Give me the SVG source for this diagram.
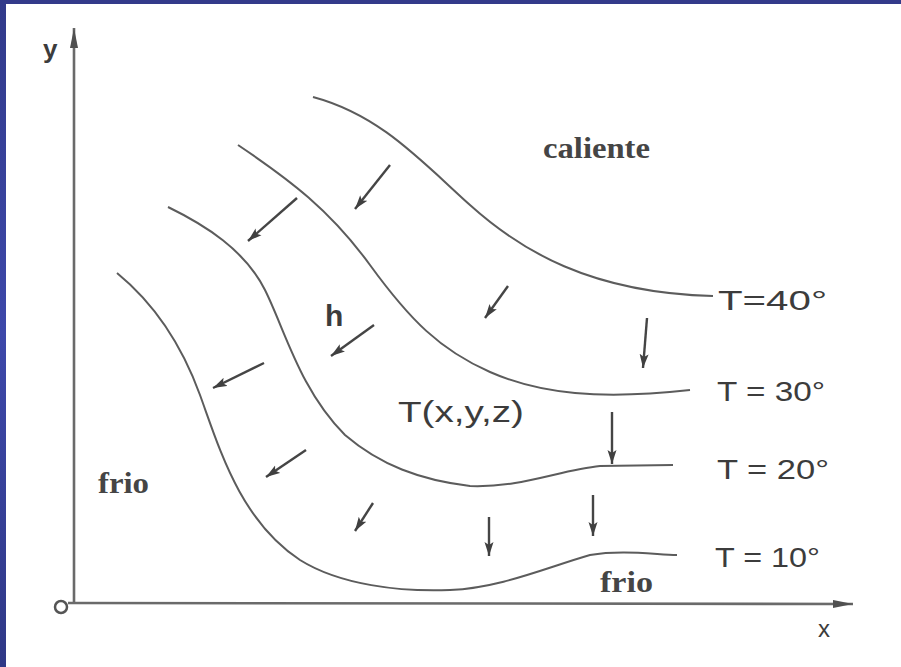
<svg xmlns="http://www.w3.org/2000/svg" width="901" height="667" viewBox="0 0 901 667">
  <defs>
    <linearGradient id="side" x1="0" y1="0" x2="0" y2="1">
      <stop offset="0" stop-color="#313a8a"/>
      <stop offset="0.5" stop-color="#3d48aa"/>
      <stop offset="1" stop-color="#2f3886"/>
    </linearGradient>
    <marker id="ah" markerUnits="userSpaceOnUse" markerWidth="16" markerHeight="12" refX="14" refY="5" orient="auto">
      <path d="M0,0.5 L14,5 L0,9.5 L3,5 z" fill="#404040"/>
    </marker>
    <marker id="axh" markerUnits="userSpaceOnUse" markerWidth="22" markerHeight="10" refX="20" refY="4" orient="auto">
      <path d="M0,0 L20,4 L0,8 z" fill="#505050"/>
    </marker>
  </defs>
  <style>
    .iso { fill: none; stroke: #5c5c5c; stroke-width: 2; }
    .arr { fill: none; stroke: #454545; stroke-width: 2.4; marker-end: url(#ah); }
    .ax { fill: none; stroke: #6a6a6a; stroke-width: 2.6; }
    .sans { font-family: "Liberation Sans", Arial, sans-serif; fill: #3c3c3c; }
    .serif { font-family: "Liberation Serif", "Times New Roman", serif; fill: #454545; font-weight: bold; }
  </style>
  <rect x="0" y="0" width="901" height="667" fill="#ffffff"/>
  <rect x="0" y="0" width="901" height="4" fill="#333a8a"/>
  <rect x="0" y="0" width="6" height="667" fill="url(#side)"/>

  <g id="axes">
    <line class="ax" x1="74" y1="603" x2="74" y2="28" marker-end="url(#axh)"/>
    <line class="ax" x1="68" y1="603" x2="853" y2="604" marker-end="url(#axh)"/>
    <circle cx="61" cy="607" r="6" fill="none" stroke="#555" stroke-width="2.5"/>
    <text class="sans" x="43" y="58" font-size="26" font-weight="bold">y</text>
    <text class="sans" x="818" y="637" font-size="24">x</text>
  </g>

  <g id="isotherm-40">
    <path class="iso" d="M313,97 C380,115 420,160 470,205 C520,250 590,293 713,296"/>
    <text class="sans" x="718" y="310" font-size="28" textLength="109" lengthAdjust="spacingAndGlyphs">T=40°</text>
  </g>
  <g id="isotherm-30">
    <path class="iso" d="M238,145 C290,180 330,210 370,265 C410,320 440,350 490,372 C540,394 600,400 690,390"/>
    <text class="sans" x="717" y="401" font-size="28" textLength="108" lengthAdjust="spacingAndGlyphs">T = 30°</text>
  </g>
  <g id="isotherm-20">
    <path class="iso" d="M168,207 C205,225 245,250 265,290 C285,330 300,390 345,435 C380,465 420,480 470,486 C520,488 560,470 600,466 L673,465"/>
    <text class="sans" x="717" y="479" font-size="28" textLength="112" lengthAdjust="spacingAndGlyphs">T = 20°</text>
  </g>
  <g id="isotherm-10">
    <path class="iso" d="M117,273 C150,300 180,340 200,395 C220,450 240,520 300,560 C340,585 400,592 450,590 C500,588 545,568 590,555 C620,550 650,554 677,555"/>
    <text class="sans" x="715" y="567" font-size="28" textLength="105" lengthAdjust="spacingAndGlyphs">T = 10°</text>
  </g>

  <g id="labels">
    <text class="serif" x="543" y="158" font-size="30" textLength="107" lengthAdjust="spacingAndGlyphs">caliente</text>
    <text class="serif" x="98" y="493" font-size="30" textLength="51" lengthAdjust="spacingAndGlyphs">frio</text>
    <text class="serif" x="600" y="592" font-size="30" textLength="53" lengthAdjust="spacingAndGlyphs">frio</text>
    <text class="sans" x="398" y="422" font-size="30" textLength="126" lengthAdjust="spacingAndGlyphs">T(x,y,z)</text>
    <text class="sans" x="325" y="326" font-size="30" font-weight="bold">h</text>
  </g>

  <g id="connectors">
    <line class="arr" x1="390" y1="165" x2="355" y2="209"/>
    <line class="arr" x1="297" y1="198" x2="248" y2="241"/>
    <line class="arr" x1="374" y1="325" x2="331" y2="356"/>
    <line class="arr" x1="508" y1="286" x2="485" y2="318"/>
    <line class="arr" x1="264" y1="363" x2="213" y2="388"/>
    <line class="arr" x1="306" y1="450" x2="266" y2="477"/>
    <line class="arr" x1="373" y1="503" x2="355" y2="531"/>
    <line class="arr" x1="647" y1="318" x2="643" y2="368"/>
    <line class="arr" x1="612" y1="412" x2="612" y2="464"/>
    <line class="arr" x1="593" y1="495" x2="593" y2="536"/>
    <line class="arr" x1="489" y1="517" x2="489" y2="556"/>
  </g>
</svg>
